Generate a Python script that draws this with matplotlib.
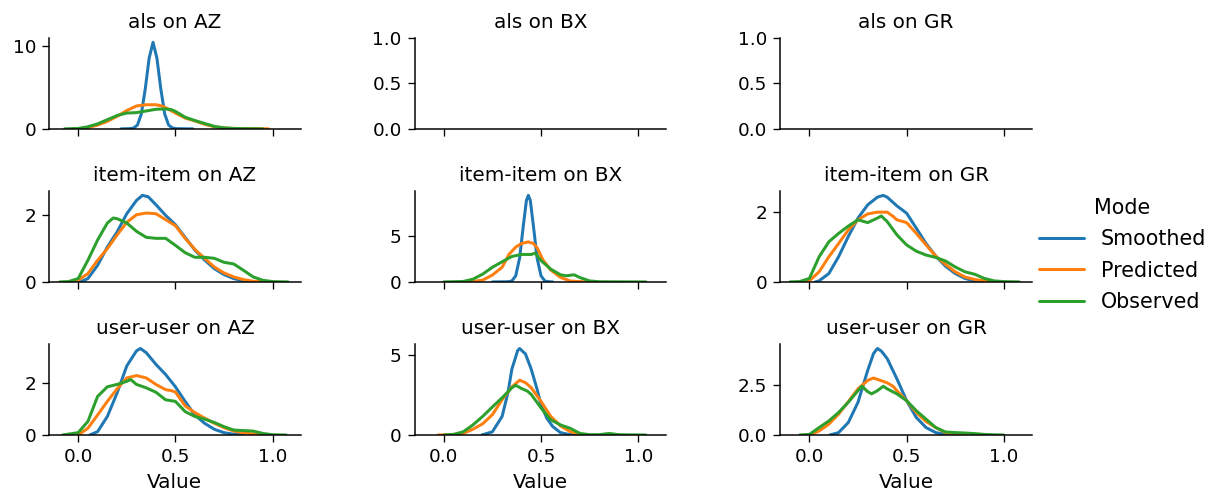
import matplotlib
matplotlib.use("Agg")
import matplotlib.pyplot as plt

# facet layout
ALGORITHMS = ["als", "item-item", "user-user"]
DATASETS = ["AZ", "BX", "GR"]
MODES = ["Smoothed", "Predicted", "Observed"]
COLORS = ["#1f77b4", "#ff7f0e", "#2ca02c"]

# density curves, as (value, density) pairs
ALS_AZ_SMOOTHED = [(0.22, 0), (0.265, 0.03), (0.285, 0.1), (0.305, 0.46), (0.325, 1.8), (0.345, 4.8),
                   (0.365, 8.5), (0.385, 10.4), (0.405, 8.5), (0.425, 4.8), (0.445, 1.8), (0.465, 0.46),
                   (0.485, 0.1), (0.51, 0.02), (0.59, 0)]
ALS_AZ_PREDICTED = [(-0.03, 0), (0.0, 0.03), (0.05, 0.15), (0.1, 0.45), (0.15, 0.9), (0.2, 1.5), (0.25, 2.2),
                    (0.3, 2.75), (0.35, 2.9), (0.4, 2.9), (0.43, 2.75), (0.45, 2.55), (0.5, 1.9), (0.55, 1.3),
                    (0.6, 0.95), (0.65, 0.55), (0.7, 0.25), (0.75, 0.1), (0.8, 0.05), (0.9, 0.02), (0.98, 0)]
ALS_AZ_OBSERVED = [(-0.07, 0), (0.0, 0.05), (0.05, 0.25), (0.1, 0.6), (0.15, 1.1), (0.2, 1.6), (0.25, 1.9),
                   (0.3, 1.95), (0.35, 2.15), (0.4, 2.35), (0.45, 2.4), (0.48, 2.3), (0.5, 2.1), (0.55, 1.4),
                   (0.6, 1.0), (0.65, 0.65), (0.7, 0.3), (0.75, 0.12), (0.8, 0.05), (0.9, 0.01), (0.95, 0)]

II_AZ_SMOOTHED = [(0.01, 0), (0.05, 0.1), (0.1, 0.5), (0.15, 1.05), (0.2, 1.5), (0.25, 2.05), (0.3, 2.45),
                  (0.33, 2.6), (0.36, 2.56), (0.4, 2.32), (0.45, 2.0), (0.5, 1.72), (0.55, 1.34), (0.6, 0.96),
                  (0.65, 0.66), (0.7, 0.4), (0.75, 0.22), (0.8, 0.1), (0.85, 0.03), (0.9, 0)]
II_AZ_PREDICTED = [(-0.03, 0), (0.0, 0.05), (0.05, 0.25), (0.1, 0.65), (0.15, 1.0), (0.2, 1.41), (0.25, 1.79),
                   (0.3, 2.02), (0.35, 2.07), (0.4, 2.05), (0.45, 1.87), (0.5, 1.69), (0.55, 1.31), (0.6, 0.98),
                   (0.65, 0.71), (0.7, 0.45), (0.75, 0.27), (0.8, 0.15), (0.85, 0.07), (0.9, 0.02), (0.97, 0)]
II_AZ_OBSERVED = [(-0.095, 0), (-0.05, 0.01), (0.0, 0.1), (0.05, 0.65), (0.1, 1.26), (0.15, 1.77), (0.18, 1.92),
                  (0.2, 1.9), (0.25, 1.77), (0.3, 1.52), (0.35, 1.34), (0.4, 1.31), (0.45, 1.31), (0.5, 1.1),
                  (0.55, 0.88), (0.6, 0.74), (0.65, 0.74), (0.7, 0.71), (0.75, 0.59), (0.8, 0.54), (0.85, 0.35),
                  (0.9, 0.15), (0.95, 0.05), (1.0, 0.01), (1.08, 0)]

UU_AZ_SMOOTHED = [(0.06, 0), (0.1, 0.13), (0.15, 0.71), (0.2, 1.61), (0.25, 2.65), (0.3, 3.23), (0.32, 3.32),
                  (0.35, 3.16), (0.4, 2.71), (0.45, 2.32), (0.5, 1.85), (0.55, 1.29), (0.6, 0.77), (0.65, 0.45),
                  (0.7, 0.22), (0.75, 0.09), (0.8, 0.03), (0.85, 0)]
UU_AZ_PREDICTED = [(0.0, 0), (0.05, 0.26), (0.1, 0.77), (0.15, 1.29), (0.2, 1.77), (0.25, 2.19), (0.3, 2.28),
                   (0.35, 2.19), (0.4, 1.94), (0.45, 1.74), (0.48, 1.7), (0.5, 1.65), (0.55, 1.12), (0.6, 0.86),
                   (0.65, 0.65), (0.7, 0.45), (0.75, 0.28), (0.8, 0.15), (0.85, 0.09), (0.9, 0.04), (0.97, 0)]
UU_AZ_OBSERVED = [(-0.08, 0), (0.0, 0.09), (0.05, 0.52), (0.1, 1.48), (0.15, 1.85), (0.2, 1.94), (0.25, 2.06),
                  (0.27, 2.13), (0.3, 1.94), (0.35, 1.81), (0.4, 1.64), (0.45, 1.35), (0.5, 1.29), (0.55, 0.9),
                  (0.6, 0.71), (0.65, 0.61), (0.7, 0.48), (0.75, 0.32), (0.8, 0.19), (0.85, 0.17), (0.9, 0.15),
                  (0.95, 0.06), (1.0, 0.01), (1.07, 0)]

II_BX_SMOOTHED = [(0.25, 0), (0.33, 0.02), (0.35, 0.1), (0.37, 0.67), (0.39, 2.6), (0.41, 6.3), (0.425, 8.9),
                  (0.435, 9.45), (0.445, 8.9), (0.46, 6.3), (0.48, 2.6), (0.5, 0.67), (0.52, 0.1), (0.54, 0.02),
                  (0.56, 0)]
II_BX_PREDICTED = [(0.13, 0), (0.2, 0.2), (0.25, 0.75), (0.3, 1.6), (0.335, 3.0), (0.37, 3.8), (0.4, 4.2),
                   (0.435, 4.37), (0.46, 4.2), (0.48, 3.74), (0.51, 2.4), (0.55, 1.3), (0.6, 0.5), (0.65, 0.1),
                   (0.73, 0)]
II_BX_OBSERVED = [(0.0, 0), (0.1, 0.05), (0.15, 0.3), (0.2, 0.85), (0.25, 1.6), (0.3, 2.2), (0.35, 2.78),
                  (0.4, 3.0), (0.45, 3.0), (0.47, 3.15), (0.5, 2.33), (0.55, 1.4), (0.6, 0.78), (0.63, 0.67),
                  (0.67, 0.78), (0.7, 0.48), (0.75, 0.11), (0.8, 0.02), (0.9, 0.01), (1.04, 0)]

UU_BX_SMOOTHED = [(0.195, 0), (0.25, 0.2), (0.3, 1.16), (0.33, 2.64), (0.35, 4.1), (0.38, 5.27), (0.39, 5.4),
                  (0.42, 5.06), (0.45, 4.1), (0.48, 2.85), (0.5, 1.9), (0.53, 1.05), (0.56, 0.53), (0.6, 0.15),
                  (0.65, 0.02), (0.7, 0)]
UU_BX_PREDICTED = [(-0.03, 0), (0.05, 0.02), (0.1, 0.1), (0.15, 0.36), (0.2, 0.7), (0.25, 1.27), (0.3, 2.2),
                   (0.35, 3.0), (0.39, 3.42), (0.42, 3.27), (0.45, 2.95), (0.5, 2.1), (0.55, 1.16), (0.6, 0.57),
                   (0.65, 0.21), (0.7, 0.06), (0.73, 0)]
UU_BX_OBSERVED = [(0.0, 0), (0.05, 0.04), (0.1, 0.2), (0.15, 0.63), (0.2, 1.16), (0.25, 1.75), (0.3, 2.32),
                  (0.35, 2.95), (0.37, 3.1), (0.4, 2.9), (0.43, 2.74), (0.45, 2.53), (0.5, 1.69), (0.55, 0.95),
                  (0.6, 0.63), (0.65, 0.42), (0.7, 0.1), (0.75, 0.02), (0.8, 0.02), (0.85, 0.1), (0.9, 0.02),
                  (0.95, 0.01), (1.04, 0)]

II_GR_SMOOTHED = [(0.03, 0), (0.05, 0.03), (0.1, 0.24), (0.15, 0.72), (0.2, 1.3), (0.25, 1.83), (0.3, 2.21),
                  (0.35, 2.43), (0.38, 2.48), (0.4, 2.43), (0.45, 2.18), (0.5, 1.97), (0.55, 1.54), (0.6, 1.1),
                  (0.65, 0.74), (0.7, 0.45), (0.75, 0.24), (0.8, 0.1), (0.85, 0.03), (0.9, 0)]
II_GR_PREDICTED = [(-0.02, 0), (0.0, 0.03), (0.05, 0.29), (0.1, 0.72), (0.15, 1.1), (0.2, 1.49), (0.25, 1.78),
                   (0.3, 1.95), (0.35, 2.0), (0.4, 2.0), (0.43, 1.88), (0.45, 1.78), (0.5, 1.7), (0.55, 1.39),
                   (0.6, 1.06), (0.65, 0.74), (0.7, 0.5), (0.75, 0.29), (0.8, 0.14), (0.85, 0.07), (0.9, 0.03),
                   (0.98, 0)]
II_GR_OBSERVED = [(-0.1, 0), (-0.05, 0.01), (0.0, 0.1), (0.05, 0.72), (0.1, 1.15), (0.15, 1.39), (0.2, 1.6),
                  (0.25, 1.78), (0.3, 1.7), (0.35, 1.83), (0.37, 1.89), (0.4, 1.73), (0.45, 1.35), (0.5, 1.06),
                  (0.55, 0.88), (0.6, 0.77), (0.65, 0.7), (0.7, 0.6), (0.75, 0.43), (0.8, 0.29), (0.85, 0.22),
                  (0.9, 0.1), (0.95, 0.03), (1.0, 0.01), (1.08, 0)]

UU_GR_SMOOTHED = [(0.105, 0), (0.15, 0.12), (0.2, 0.62), (0.25, 1.63), (0.3, 3.22), (0.33, 4.06), (0.35, 4.31),
                  (0.37, 4.18), (0.4, 3.81), (0.45, 2.8), (0.5, 1.71), (0.55, 0.87), (0.6, 0.37), (0.65, 0.12),
                  (0.7, 0.03), (0.75, 0)]
UU_GR_PREDICTED = [(0.0, 0), (0.05, 0.2), (0.1, 0.54), (0.15, 1.04), (0.2, 1.66), (0.25, 2.3), (0.3, 2.72),
                   (0.33, 2.84), (0.35, 2.77), (0.4, 2.6), (0.43, 2.43), (0.45, 2.21), (0.5, 1.71), (0.55, 1.12),
                   (0.6, 0.67), (0.65, 0.37), (0.7, 0.12), (0.75, 0.03), (0.8, 0)]
UU_GR_OBSERVED = [(-0.05, 0), (0.0, 0.03), (0.05, 0.37), (0.1, 0.7), (0.15, 1.12), (0.2, 1.63), (0.25, 2.21),
                  (0.27, 2.43), (0.3, 2.16), (0.32, 2.05), (0.35, 2.21), (0.38, 2.43), (0.4, 2.3), (0.45, 2.05),
                  (0.5, 1.71), (0.55, 1.21), (0.6, 0.79), (0.65, 0.37), (0.7, 0.15), (0.75, 0.12), (0.8, 0.1),
                  (0.85, 0.07), (0.9, 0.03), (0.95, 0.01), (1.0, 0)]


def main():
    #als has no curves for BX and GR
    curves = {
        ("als", "AZ"): [ALS_AZ_SMOOTHED, ALS_AZ_PREDICTED, ALS_AZ_OBSERVED],
        ("item-item", "AZ"): [II_AZ_SMOOTHED, II_AZ_PREDICTED, II_AZ_OBSERVED],
        ("item-item", "BX"): [II_BX_SMOOTHED, II_BX_PREDICTED, II_BX_OBSERVED],
        ("item-item", "GR"): [II_GR_SMOOTHED, II_GR_PREDICTED, II_GR_OBSERVED],
        ("user-user", "AZ"): [UU_AZ_SMOOTHED, UU_AZ_PREDICTED, UU_AZ_OBSERVED],
        ("user-user", "BX"): [UU_BX_SMOOTHED, UU_BX_PREDICTED, UU_BX_OBSERVED],
        ("user-user", "GR"): [UU_GR_SMOOTHED, UU_GR_PREDICTED, UU_GR_OBSERVED],
    }

    plt.rcParams["font.family"] = "DejaVu Sans"
    plt.rcParams["xtick.labelsize"] = 11
    plt.rcParams["ytick.labelsize"] = 11
    plt.rcParams["xtick.major.size"] = 4.2
    plt.rcParams["ytick.major.size"] = 4.2
    plt.rcParams["axes.linewidth"] = 0.9
    plt.rcParams["lines.solid_capstyle"] = "round"
    plt.rcParams["lines.solid_joinstyle"] = "round"

    fig, axes = plt.subplots(3, 3, figsize = (1216 / 120, 500 / 120), dpi = 120, sharex = True)
    fig.subplots_adjust(left = 0.0403, right = 0.8487, bottom = 0.13, top = 0.924,
                        wspace = 0.452, hspace = 0.685)

    handles = []
    for i, algo in enumerate(ALGORITHMS):
        for j, ds in enumerate(DATASETS):
            ax = axes[i][j]
            for k, pts in enumerate(curves.get((algo, ds), [])):
                xs = [p[0] for p in pts]
                ys = [p[1] for p in pts]
                line, = ax.plot(xs, ys, color = COLORS[k], lw = 1.8, label = MODES[k])
                if (algo, ds) == ("als", "AZ"):
                    handles.append(line)
            ax.set_ylim(bottom = 0)
            ax.set_xlim(-0.15, 1.145)
            ax.set_title("{} on {}".format(algo, ds), fontsize = 12)
            ax.spines["top"].set_visible(False)
            ax.spines["right"].set_visible(False)
            if i == 2:
                ax.set_xlabel("Value", fontsize = 12)

    fig.legend(handles, MODES, title = "Mode", loc = "center right", bbox_to_anchor = (1.007, 0.49),
               frameon = False, fontsize = 12.4, title_fontsize = 12.4, labelspacing = 0.55,
               handlelength = 2.2)

    fig.savefig("out.png", dpi = 120)


if __name__ == '__main__':
    main()
